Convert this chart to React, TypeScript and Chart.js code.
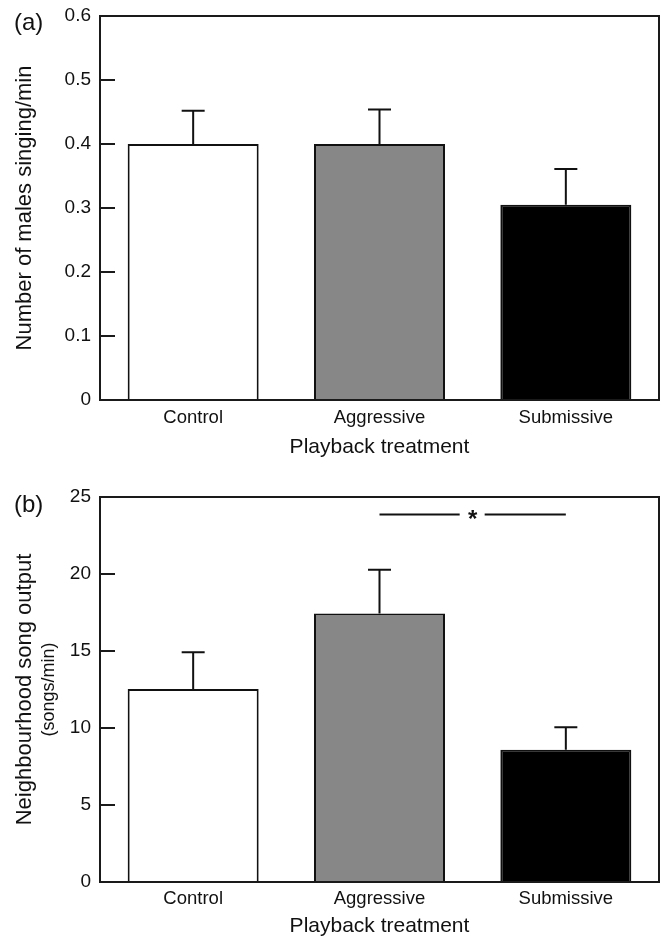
import React, { useEffect, useRef } from "react";
import { Chart, registerables } from "chart.js";

Chart.register(...registerables);

// ---- data ----
const categories = ["Control", "Aggressive", "Submissive"];
const singingMeans = [0.4, 0.4, 0.305];
const singingSE = [0.052, 0.054, 0.056];
const songMeans = [12.54, 17.44, 8.58];
const songSE = [2.38, 2.83, 1.47];
const singingAxis = { min: 0, max: 0.6, step: 0.1 };
const songAxis = { min: 0, max: 25, step: 5 };
const barColors = ["#ffffff", "#878787", "#000000"];
const sigPair = [1, 2];
const sigValue = 23.87;
const sigLabel = "*";
const xTitle = "Playback treatment";
const yTitleA = "Number of males singing/min";
const yTitleB = "Neighbourhood song output";
const yTitleB2 = "(songs/min)";
const panelLabels = ["(a)", "(b)"];

const FONT = "'Liberation Sans', Arial, Helvetica, sans-serif";
const INK = "#111111";

const errorBarPlugin = {
  id: "errorBars",
  afterDatasetsDraw(chart: any) {
    const ctx = chart.ctx;
    const ds = chart.data.datasets[0];
    const meta = chart.getDatasetMeta(0);
    const ys = chart.scales.y;
    ctx.save();
    ctx.strokeStyle = INK;
    ctx.lineWidth = 2;
    meta.data.forEach((bar: any, i: number) => {
      const top = ys.getPixelForValue(ds.data[i]);
      const e = ys.getPixelForValue(ds.data[i] + ds.errors[i]);
      ctx.beginPath();
      ctx.moveTo(bar.x, top);
      ctx.lineTo(bar.x, e);
      ctx.moveTo(bar.x - 11.5, e);
      ctx.lineTo(bar.x + 11.5, e);
      ctx.stroke();
    });
    ctx.restore();
  },
};

const framePlugin = {
  id: "frame",
  afterDraw(chart: any) {
    const { ctx, chartArea: a } = chart;
    ctx.save();
    ctx.strokeStyle = "#1a1a1a";
    ctx.lineWidth = 2;
    ctx.strokeRect(a.left, a.top, a.right - a.left, a.bottom - a.top);
    ctx.restore();
  },
};

const panelLabelPlugin = {
  id: "panelLabel",
  afterDraw(chart: any, _args: any, opts: any) {
    const ctx = chart.ctx;
    ctx.save();
    ctx.fillStyle = INK;
    ctx.font = `24px ${FONT}`;
    ctx.textAlign = "left";
    ctx.textBaseline = "alphabetic";
    ctx.fillText(opts.text, 14, opts.y);
    ctx.restore();
  },
};

const sigPlugin = {
  id: "sig",
  afterDatasetsDraw(chart: any, _args: any, opts: any) {
    if (!opts.enabled) return;
    const ctx = chart.ctx;
    const xs = chart.scales.x;
    const ys = chart.scales.y;
    const x1 = xs.getPixelForValue(sigPair[0]);
    const x2 = xs.getPixelForValue(sigPair[1]);
    const y = ys.getPixelForValue(sigValue);
    const mid = (x1 + x2) / 2;
    ctx.save();
    ctx.strokeStyle = INK;
    ctx.lineWidth = 2;
    ctx.beginPath();
    ctx.moveTo(x1, y);
    ctx.lineTo(mid - 13, y);
    ctx.moveTo(mid + 12, y);
    ctx.lineTo(x2, y);
    ctx.stroke();
    ctx.fillStyle = INK;
    ctx.font = `bold 24px ${FONT}`;
    ctx.textAlign = "center";
    ctx.textBaseline = "alphabetic";
    ctx.fillText(sigLabel, mid, y + 13);
    ctx.restore();
  },
};

const subTitlePlugin = {
  id: "subTitle",
  afterDraw(chart: any, _args: any, opts: any) {
    if (!opts.text) return;
    const { ctx, chartArea: a } = chart;
    ctx.save();
    ctx.translate(opts.x, (a.top + a.bottom) / 2);
    ctx.rotate(-Math.PI / 2);
    ctx.fillStyle = INK;
    ctx.font = `18px ${FONT}`;
    ctx.textAlign = "center";
    ctx.textBaseline = "middle";
    ctx.fillText(opts.text, 0, 0);
    ctx.restore();
  },
};

function makeConfig(p: {
  means: number[];
  errors: number[];
  axis: { min: number; max: number; step: number };
  yTitle: string;
  padTop: number;
  xHeight: number;
  xTickPad: number;
  xTitlePadBottom: number;
  yTitlePadTop: number;
  panel: string;
  panelY: number;
  sig: boolean;
  sub: string;
}) {
  return {
    type: "bar",
    data: {
      labels: categories,
      datasets: [
        {
          data: p.means,
          errors: p.errors,
          backgroundColor: barColors,
          borderColor: INK,
          borderWidth: 2,
          borderSkipped: "start",
          barPercentage: 0.703,
          categoryPercentage: 1,
        },
      ],
    },
    options: {
      animation: false,
      responsive: false,
      maintainAspectRatio: false,
      layout: { padding: { top: p.padTop, right: 2, bottom: 0, left: 0 } },
      plugins: {
        legend: { display: false },
        tooltip: { enabled: false },
        sig: { enabled: p.sig },
        subTitle: { text: p.sub, x: 49 },
        panelLabel: { text: p.panel, y: p.panelY },
      },
      scales: {
        x: {
          grid: { display: false, drawTicks: false },
          border: { display: false },
          ticks: { color: INK, font: { family: FONT, size: 18.5 }, padding: p.xTickPad },
          title: {
            display: true,
            text: xTitle,
            color: INK,
            font: { family: FONT, size: 21 },
            padding: { top: 0, bottom: p.xTitlePadBottom },
          },
          afterFit: (s: any) => {
            s.height = p.xHeight;
            s.paddingLeft = 0;
            s.paddingRight = 0;
          },
        },
        y: {
          min: p.axis.min,
          max: p.axis.max,
          ticks: {
            stepSize: p.axis.step,
            color: INK,
            font: { family: FONT, size: 19 },
            padding: 24,
          },
          grid: {
            drawOnChartArea: false,
            tickLength: -15,
            color: "#1a1a1a",
            lineWidth: 2,
          },
          border: { display: false },
          title: {
            display: true,
            text: p.yTitle,
            color: INK,
            font: { family: FONT, size: 22 },
            padding: { top: p.yTitlePadTop, bottom: 0 },
          },
          afterFit: (s: any) => {
            s.width = 100;
            s.paddingTop = 0;
            s.paddingBottom = 0;
          },
        },
      },
    },
    plugins: [errorBarPlugin, framePlugin, sigPlugin, subTitlePlugin, panelLabelPlugin],
  };
}

export default function App() {
  const refA = useRef<HTMLCanvasElement>(null);
  const refB = useRef<HTMLCanvasElement>(null);

  useEffect(() => {
    const a = new Chart(
      refA.current as HTMLCanvasElement,
      makeConfig({
        means: singingMeans,
        errors: singingSE,
        axis: singingAxis,
        yTitle: yTitleA,
        padTop: 16,
        xHeight: 70,
        xTickPad: 6.4,
        xTitlePadBottom: 10,
        yTitlePadTop: 12,
        panel: panelLabels[0],
        panelY: 30,
        sig: false,
        sub: "",
      }) as any
    );
    const b = new Chart(
      refB.current as HTMLCanvasElement,
      makeConfig({
        means: songMeans,
        errors: songSE,
        axis: songAxis,
        yTitle: yTitleB,
        padTop: 27,
        xHeight: 57,
        xTickPad: 5.4,
        xTitlePadBottom: 0,
        yTitlePadTop: 12,
        panel: panelLabels[1],
        panelY: 42,
        sig: true,
        sub: yTitleB2,
      }) as any
    );
    return () => {
      a.destroy();
      b.destroy();
    };
  }, []);

  return (
    <div style={{ position: "absolute", left: 0, top: 0, width: 661, height: 939, background: "#fff" }}>
      <canvas ref={refA} width={661} height={470} style={{ display: "block", width: 661, height: 470 }} />
      <canvas ref={refB} width={661} height={469} style={{ display: "block", width: 661, height: 469 }} />
    </div>
  );
}
